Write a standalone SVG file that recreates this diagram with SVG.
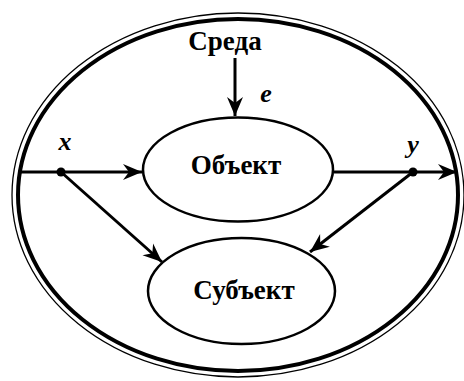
<svg xmlns="http://www.w3.org/2000/svg" width="464" height="381" viewBox="0 0 464 381">
<defs>
<style>
.ln{stroke:#000;stroke-width:3;fill:none}
.nd{stroke:#000;stroke-width:2.5;fill:#fff}
.lb{font-family:"Liberation Serif","Times New Roman",serif;font-weight:bold;font-size:27px;text-anchor:middle;fill:#000}
.var{font-family:"Liberation Serif","Times New Roman",serif;font-weight:bold;font-style:italic;font-size:26px;text-anchor:middle;fill:#000}
</style>
<marker id="ah" markerUnits="userSpaceOnUse" markerWidth="22" markerHeight="18" viewBox="-20 -9 22 18" refX="0" refY="0" orient="auto">
<path d="M0,0 L-19,-8 L-13,0 L-19,8 Z" fill="#000"/>
</marker>
</defs>
<g id="boundary">
<ellipse cx="238" cy="195" rx="226" ry="182" fill="none" stroke="#000" stroke-width="1.3"/>
<ellipse cx="238" cy="195" rx="220" ry="176" fill="none" stroke="#000" stroke-width="4"/>
</g>
<g id="connectors">
<line class="ln" x1="235" y1="58" x2="235" y2="116" marker-end="url(#ah)"/>
<line class="ln" x1="20" y1="172" x2="142" y2="172" marker-end="url(#ah)"/>
<line class="ln" x1="334" y1="172" x2="457" y2="172" marker-end="url(#ah)"/>
<line class="ln" x1="61" y1="172" x2="162" y2="262" marker-end="url(#ah)"/>
<line class="ln" x1="413" y1="172" x2="310" y2="252" marker-end="url(#ah)"/>
<circle cx="61" cy="172" r="4.5" fill="#000"/>
<circle cx="413" cy="172" r="4.5" fill="#000"/>
</g>
<g id="sreda"><text class="lb" x="225" y="50">Среда</text></g>
<g id="obj">
<ellipse class="nd" cx="238" cy="169.5" rx="95" ry="52"/>
<text class="lb" x="236" y="174">Объект</text>
</g>
<g id="subj">
<ellipse class="nd" cx="241.5" cy="291" rx="93.5" ry="53"/>
<text class="lb" x="244" y="299">Субъект</text>
</g>
<g id="labels">
<text class="var" x="266" y="102">e</text>
<text class="var" x="65" y="150">x</text>
<text class="var" x="413" y="153">y</text>
</g>
</svg>
